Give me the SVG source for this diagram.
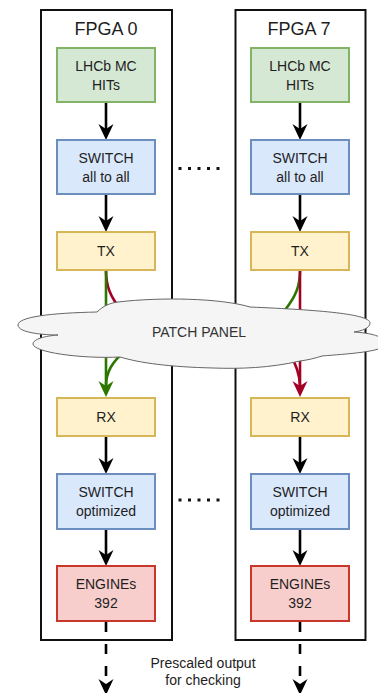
<svg xmlns="http://www.w3.org/2000/svg" width="378" height="693" viewBox="0 0 378 693">
  <defs>
    <style>
      text { font-family: "Liberation Sans", Arial, sans-serif; fill: #1e1e1e; text-anchor: middle; }
      .title { font-size: 18px; }
      .lbl { font-size: 14px; }
      .fpga { fill: #fff; stroke: #111; stroke-width: 2; }
      .node { stroke-width: 2; }
      .green { fill: #d5e8d4; stroke: #82b366; }
      .blue { fill: #dae8fc; stroke: #6c8ebf; }
      .yellow { fill: #fff2cc; stroke: #d6b656; }
      .red { fill: #f8cecc; stroke: #c9362b; }
      .flow { fill: none; stroke: #000; stroke-width: 2.6; marker-end: url(#head-black); }
      .dash { fill: none; stroke: #000; stroke-width: 2.6; stroke-dasharray: 10 12; marker-end: url(#head-black); }
      .link-g { fill: none; stroke: #2d7600; stroke-width: 2.6; }
      .link-r { fill: none; stroke: #a20025; stroke-width: 2.6; }
      .dots { stroke: #111; stroke-width: 3; stroke-dasharray: 3 6.5; }
    </style>
    <marker id="head-black" markerUnits="userSpaceOnUse" markerWidth="16" markerHeight="16" refX="5" refY="8" orient="auto">
      <path d="M0,0.5 L16,8 L0,15.5 L5,8 Z" fill="#000"/>
    </marker>
    <marker id="head-green" markerUnits="userSpaceOnUse" markerWidth="16" markerHeight="16" refX="5" refY="8" orient="auto">
      <path d="M0,0.5 L16,8 L0,15.5 L5,8 Z" fill="#2d7600"/>
    </marker>
    <marker id="head-red" markerUnits="userSpaceOnUse" markerWidth="16" markerHeight="16" refX="5" refY="8" orient="auto">
      <path d="M0,0.5 L16,8 L0,15.5 L5,8 Z" fill="#a20025"/>
    </marker>
  </defs>

  <rect width="378" height="693" fill="#fff"/>

  <!-- FPGA containers -->
  <g id="fpga0">
    <rect class="fpga" x="41" y="10" width="131" height="630"/>
    <text class="title" x="106" y="35">FPGA 0</text>
  </g>
  <g id="fpga7">
    <rect class="fpga" x="235.5" y="10" width="130" height="630"/>
    <text class="title" x="299" y="35">FPGA 7</text>
  </g>

  <!-- connectors -->
  <g id="connectors">
    <path class="flow" d="M106,102 V129"/>
    <path class="flow" d="M106,194 V221"/>
    <path class="flow" d="M106,436 V463"/>
    <path class="flow" d="M106,529 V555"/>
    <path class="flow" d="M300,102 V129"/>
    <path class="flow" d="M300,194 V221"/>
    <path class="flow" d="M300,436 V463"/>
    <path class="flow" d="M300,529 V555"/>
    <path class="dash" d="M106,622 V684"/>
    <path class="dash" d="M300,622 V684"/>

    <!-- optical links through the patch panel -->
    <path class="link-r" d="M106,270 C106,286 110,296 121,310"/>
    <path class="link-g" d="M106,270 V386" marker-end="url(#head-green)"/>
    <path class="link-g" d="M126,350 C112,362 106,372 106,386"/>
    <path class="link-g" d="M300,270 C300,286 296,296 285,310"/>
    <path class="link-r" d="M300,270 V386" marker-end="url(#head-red)"/>
    <path class="link-r" d="M289,352 C296,364 300,374 300,386"/>

    <!-- elided FPGAs -->
    <line class="dots" x1="178.5" y1="168.5" x2="222" y2="168.5"/>
    <line class="dots" x1="178.5" y1="500" x2="222" y2="500"/>
  </g>

  <!-- patch panel cloud -->
  <g id="patch-panel">
    <path d="M58,335 C45,335 18,333 18,325 C18,317 50,313 97,312 C103,306 110,303 118,302 C160,297 220,298 250,307 C320,310 370,314 370,323 C370,328 362,331 354,332 C370,333 385,336 385,344 C385,352 345,354 322,356 C316,358 308,360 300,361 C270,368 240,369 213,368 C170,367 140,363 120,357 C80,359 33,352 33,344 C33,339 45,336 58,335 Z" fill="#f5f5f5" stroke="#666" stroke-width="1"/>
    <text x="199" y="337" style="font-size:14px;fill:#333">PATCH PANEL</text>
  </g>

  <!-- FPGA 0 blocks -->
  <g id="hits0">
    <rect class="node green" x="57" y="48" width="98" height="54"/>
    <text class="lbl" x="106" y="71">LHCb MC</text>
    <text class="lbl" x="106" y="90">HITs</text>
  </g>
  <g id="switch0">
    <rect class="node blue" x="57" y="140" width="98" height="54"/>
    <text class="lbl" x="106" y="163">SWITCH</text>
    <text class="lbl" x="106" y="182">all to all</text>
  </g>
  <g id="tx0">
    <rect class="node yellow" x="57" y="232" width="98" height="38"/>
    <text class="lbl" x="106" y="256">TX</text>
  </g>
  <g id="rx0">
    <rect class="node yellow" x="57" y="398" width="98" height="38"/>
    <text class="lbl" x="106" y="422">RX</text>
  </g>
  <g id="switchopt0">
    <rect class="node blue" x="57" y="474" width="98" height="55"/>
    <text class="lbl" x="106" y="497">SWITCH</text>
    <text class="lbl" x="106" y="516">optimized</text>
  </g>
  <g id="engines0">
    <rect class="node red" x="57" y="566" width="98" height="55"/>
    <text class="lbl" x="106" y="589">ENGINEs</text>
    <text class="lbl" x="106" y="608">392</text>
  </g>

  <!-- FPGA 7 blocks -->
  <g id="hits7">
    <rect class="node green" x="251" y="48" width="98" height="54"/>
    <text class="lbl" x="300" y="71">LHCb MC</text>
    <text class="lbl" x="300" y="90">HITs</text>
  </g>
  <g id="switch7">
    <rect class="node blue" x="251" y="140" width="98" height="54"/>
    <text class="lbl" x="300" y="163">SWITCH</text>
    <text class="lbl" x="300" y="182">all to all</text>
  </g>
  <g id="tx7">
    <rect class="node yellow" x="251" y="232" width="98" height="38"/>
    <text class="lbl" x="300" y="256">TX</text>
  </g>
  <g id="rx7">
    <rect class="node yellow" x="251" y="398" width="98" height="38"/>
    <text class="lbl" x="300" y="422">RX</text>
  </g>
  <g id="switchopt7">
    <rect class="node blue" x="251" y="474" width="98" height="55"/>
    <text class="lbl" x="300" y="497">SWITCH</text>
    <text class="lbl" x="300" y="516">optimized</text>
  </g>
  <g id="engines7">
    <rect class="node red" x="251" y="566" width="98" height="55"/>
    <text class="lbl" x="300" y="589">ENGINEs</text>
    <text class="lbl" x="300" y="608">392</text>
  </g>

  <!-- output note -->
  <g id="output-note">
    <text class="lbl" x="203" y="668">Prescaled output</text>
    <text class="lbl" x="203" y="685">for checking</text>
  </g>
</svg>
